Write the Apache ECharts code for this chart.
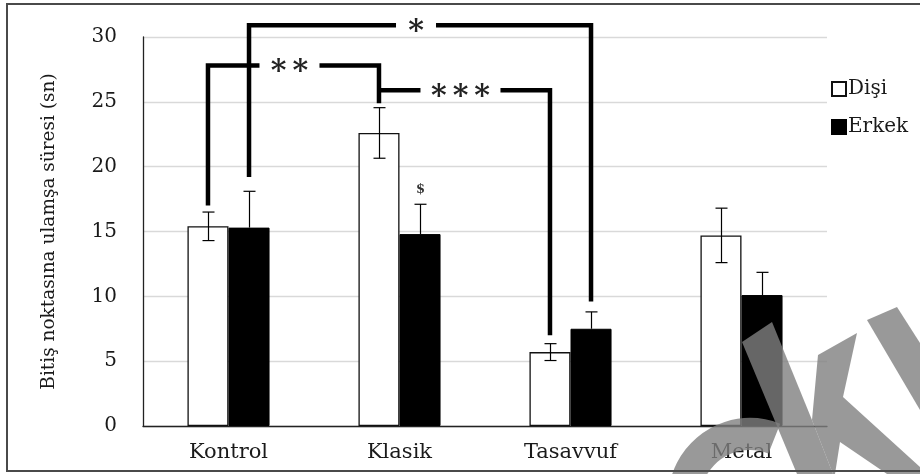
<!DOCTYPE html>
<html>
<head>
<meta charset="utf-8">
<script src="https://cdn.jsdelivr.net/npm/echarts@6/dist/echarts.min.js"></script>
<style>
  html, body { margin: 0; padding: 0; background: #fff; }
  #chart { width: 920px; height: 474px; }
</style>
</head>
<body>
<div id="chart"></div>
<script>
// data
const categories = ['Kontrol', 'Klasik', 'Tasavvuf', 'Metal'];
const disiValues = [15.4, 22.6, 5.7, 14.7];
const disiErrors = [1.1, 1.95, 0.65, 2.1];
const erkekValues = [15.3, 14.8, 7.5, 10.1];
const erkekErrors = [2.8, 2.3, 1.3, 1.75];
const erkekNotes = ['', '$', '', ''];

// significance brackets: [category, side (-1 Dişi / 1 Erkek), end value]
const bracketLabels = ['**', '***', '*'];
const bracketFrom = [[0, -1, 17.0], [1, -1, 25.9], [0, 1, 19.2]];
const bracketTo = [[1, -1, 24.9], [2, -1, 7.0], [2, 1, 9.6]];
const bracketTop = [27.8, 25.9, 30.9];

const BAR_PCT = 0.24;
const serif = 'DejaVu Serif';

// whisker: lower half is hidden inside the black bars, so it's only drawn for the white ones
function errorSeries(name, values, errors, side, notes, lowerHalf) {
  return {
    type: 'custom',
    name: name + ' hata',
    clip: false,
    z: 5,
    data: values.map((v, i) => [i, v - errors[i], v + errors[i], v]),
    encode: { x: 0, y: [1, 2] },
    renderItem: function (params, api) {
      const i = params.dataIndex;
      const bw = api.size([1, 0])[0] * BAR_PCT;
      const lo = api.coord([api.value(0), api.value(1)]);
      const hi = api.coord([api.value(0), api.value(2)]);
      const mid = api.coord([api.value(0), api.value(3)]);
      const x = Math.round(lo[0] + side * bw / 2) + 0.5;
      const cap = 6;
      const st = { stroke: '#000', lineWidth: 1.2 };
      const y0 = lowerHalf ? lo[1] : mid[1];
      const kids = [
        { type: 'line', shape: { x1: x, y1: y0, x2: x, y2: hi[1] }, style: st },
        { type: 'line', shape: { x1: x - cap, y1: hi[1], x2: x + cap, y2: hi[1] }, style: st }
      ];
      if (lowerHalf) {
        kids.push({ type: 'line', shape: { x1: x - cap, y1: lo[1], x2: x + cap, y2: lo[1] }, style: st });
      }
      if (notes && notes[i]) {
        kids.push({
          type: 'text',
          style: {
            text: notes[i], x: x, y: hi[1] - 15, align: 'center', verticalAlign: 'middle',
            font: 'bold 13px ' + serif, fill: '#333'
          }
        });
      }
      return { type: 'group', children: kids };
    }
  };
}

const bracketSeries = {
  type: 'custom',
  name: 'brackets',
  clip: false,
  z: 6,
  data: bracketLabels.map((l, i) => [bracketFrom[i][0], bracketTop[i]]),
  encode: { x: 0, y: 1 },
  renderItem: function (params, api) {
    const i = params.dataIndex;
    const bw = api.size([1, 0])[0] * BAR_PCT;
    const pt = (c, s, v) => {
      const p = api.coord([c, v]);
      return [p[0] + s * bw / 2, p[1]];
    };
    const f = bracketFrom[i], t = bracketTo[i];
    const a = pt(f[0], f[1], f[2]);
    const aTop = pt(f[0], f[1], bracketTop[i]);
    const b = pt(t[0], t[1], t[2]);
    const bTop = pt(t[0], t[1], bracketTop[i]);
    const cx = (aTop[0] + bTop[0]) / 2 - 4;
    const half = bracketLabels[i].length * 10 + 10;
    const st = { stroke: '#000', lineWidth: 4.5, fill: null, lineJoin: 'miter' };
    return {
      type: 'group',
      children: [
        { type: 'polyline', shape: { points: [a, aTop, [cx - half, aTop[1]]] }, style: st },
        { type: 'polyline', shape: { points: [[cx + half, bTop[1]], bTop, b] }, style: st },
        {
          type: 'text',
          style: {
            text: bracketLabels[i].split('').join('\u2009'), x: cx, y: aTop[1] + 7,
            align: 'center', verticalAlign: 'middle',
            font: 'bold 30px ' + serif, fill: '#222'
          }
        }
      ]
    };
  }
};

const wm = { fill: '#808080', opacity: 0.8 };

const chart = echarts.init(document.getElementById('chart'));
chart.setOption({
  animation: false,
  backgroundColor: '#fff',
  grid: { left: 143, right: 93, top: 37, bottom: 48 },
  legend: {
    data: ['Dişi', 'Erkek'],
    orient: 'vertical',
    left: 826,
    top: 74,
    itemWidth: 14,
    itemHeight: 14,
    itemGap: 18,
    icon: 'rect',
    textStyle: { fontFamily: serif, fontSize: 20, color: '#1a1a1a', padding: [0, 0, 0, -3] }
  },
  xAxis: {
    type: 'category',
    data: categories,
    axisLine: { lineStyle: { color: '#222', width: 1.3 } },
    axisTick: { show: false },
    axisLabel: { fontFamily: serif, fontSize: 21, color: '#1a1a1a', margin: 16 }
  },
  yAxis: {
    type: 'value',
    min: 0,
    max: 30,
    interval: 5,
    name: 'Bitiş noktasına ulamşa süresi (sn)',
    nameLocation: 'middle',
    nameGap: 84,
    nameTextStyle: { fontFamily: serif, fontSize: 18.5, color: '#1a1a1a' },
    axisLine: { show: true, lineStyle: { color: '#222', width: 1.3 } },
    axisTick: { show: false },
    splitLine: { lineStyle: { color: '#d9d9d9', width: 1.3 } },
    axisLabel: { fontFamily: serif, fontSize: 20, color: '#1a1a1a', margin: 26 }
  },
  series: [
    {
      type: 'bar', name: 'Dişi', data: disiValues, barWidth: '24%', barGap: '0%',
      itemStyle: { color: '#fff', borderColor: '#111', borderWidth: 1.3 }
    },
    {
      type: 'bar', name: 'Erkek', data: erkekValues, barWidth: '24%', barGap: '0%',
      itemStyle: { color: '#000', borderColor: '#000', borderWidth: 1 }
    },
    errorSeries('Dişi', disiValues, disiErrors, -1, null, true),
    errorSeries('Erkek', erkekValues, erkekErrors, 1, erkekNotes, false),
    bracketSeries
  ],
  graphic: [
    {
      type: 'rect', silent: true, z: 100,
      shape: { x: 7, y: 4, width: 930, height: 467 },
      style: { fill: null, stroke: '#4a4a4a', lineWidth: 2 }
    },
    // faint watermark in the lower-right corner
    { type: 'sector', silent: true, z: 90,
      shape: { cx: 750, cy: 500, r0: 50, r: 82, startAngle: Math.PI * 0.9, endAngle: Math.PI * 1.62, clockwise: true },
      style: wm },
    { type: 'polygon', silent: true, z: 90,
      shape: { points: [[742, 342], [772, 322], [812, 420], [833, 474], [797, 474]] }, style: wm },
    { type: 'polygon', silent: true, z: 90,
      shape: { points: [[818, 355], [857, 333], [843, 397], [920, 467], [920, 474], [887, 474], [840, 442], [835, 474], [833, 474], [812, 420]] },
      style: wm },
    { type: 'polygon', silent: true, z: 90,
      shape: { points: [[867, 320], [897, 307], [920, 343], [920, 410]] }, style: wm }
  ]
});
</script>
</body>
</html>
